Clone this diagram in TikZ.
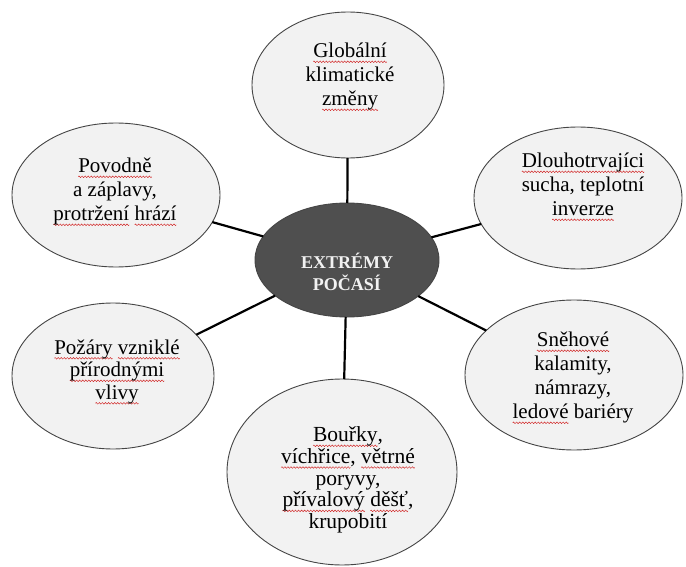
\documentclass[tikz,border=0pt]{standalone}
\usepackage{fontspec}
\setmainfont{Liberation Serif}
\usetikzlibrary{shapes.geometric}
\definecolor{bubble}{HTML}{F2F2F2}
\definecolor{hub}{HTML}{4F4F4F}
\definecolor{rim}{HTML}{454545}
\definecolor{squig}{HTML}{D02020}
\newsavebox\wavebox
\AtBeginDocument{\sbox\wavebox{\begin{pgfpicture}%
  \pgfpathrectangle{\pgfpoint{0pt}{-1pt}}{\pgfpoint{3pt}{2pt}}%
  \pgfusepath{use as bounding box}%
  \pgfsetbaseline{0pt}%
  \pgfpathmoveto{\pgfpoint{0pt}{0pt}}%
  \pgfpathcurveto{\pgfpoint{0.75pt}{1.1pt}}{\pgfpoint{0.75pt}{1.1pt}}{\pgfpoint{1.5pt}{0pt}}%
  \pgfpathcurveto{\pgfpoint{2.25pt}{-1.1pt}}{\pgfpoint{2.25pt}{-1.1pt}}{\pgfpoint{3pt}{0pt}}%
  \pgfsetlinewidth{0.45pt}\pgfsetstrokecolor{squig}%
  \pgfusepath{stroke}%
\end{pgfpicture}}}
\newcommand\rw[1]{\setbox0\hbox{#1}\rlap{\lower4pt\hbox to\wd0{\xleaders\copy\wavebox\hfil}}\box0\relax}
\begin{document}
\begin{tikzpicture}[x=1pt,y=-1pt,
  bub/.style={ellipse,draw=rim,line width=0.9pt,fill=bubble,inner sep=0pt,outer sep=0pt},
  hubst/.style={ellipse,draw=rim,line width=0.9pt,fill=hub,inner sep=0pt,outer sep=0pt,
     minimum width=184pt,minimum height=114pt},
  txt/.style={align=center,inner sep=0pt,font=\fontsize{21}{24}\selectfont},
  link/.style={line width=2.2pt,black}]
\useasboundingbox[fill=white] (0,0) rectangle (686,567);
% ellipses
\node[hubst] (c) at (347,260) {};
\node[bub,minimum width=192pt,minimum height=146pt] (t) at (348,85) {};
\node[bub,minimum width=208pt,minimum height=144pt] (tl) at (116,195) {};
\node[bub,minimum width=208pt,minimum height=142pt] (tr) at (578,198) {};
\node[bub,minimum width=202pt,minimum height=146pt] (bl) at (113,376) {};
\node[bub,minimum width=218pt,minimum height=150pt] (br) at (574,375) {};
\node[bub,minimum width=230pt,minimum height=186pt] (b) at (342,472) {};
% connectors
\draw[link] (c) -- (t);
\draw[link] (c) -- (tl);
\draw[link] (c) -- (tr);
\draw[link] (c) -- (bl);
\draw[link] (c) -- (br);
\draw[link] (c) -- (b);
% texts
\node[txt] (tt) at (350,77) {\rw{Globální}\\klimatické\\\rw{změny}};
\node[txt] (tlt) at (115,192) {\rw{Povodně}\\a záplavy,\\\rw{protržení} \rw{hrází}};
\node[txt] (trt) at (583,187) {\rw{Dlouhotrvajíci}\\sucha, teplotní\\\rw{inverze}};
\node[txt,font=\fontsize{18}{21.5}\selectfont\bfseries,text=bubble] (ct) at (347,272) {EXTRÉMY\\POČASÍ};
\node[txt,font=\fontsize{21}{22.5}\selectfont] (blt) at (117,372) {\rw{Požáry} \rw{vzniklé}\\\rw{přírodnými}\\\rw{vlivy}};
\node[txt] (brt) at (573,378) {\rw{Sněhové}\\kalamity,\\námrazy,\\\rw{ledové} bariéry};
\node[txt,font=\fontsize{21.5}{21.7}\selectfont] (bt) at (348,480) {\rw{Bouřky},\\\rw{víchřice}, \rw{větrné}\\poryvy,\\\rw{přívalový} \rw{děšť},\\krupobití};
\end{tikzpicture}
\end{document}
